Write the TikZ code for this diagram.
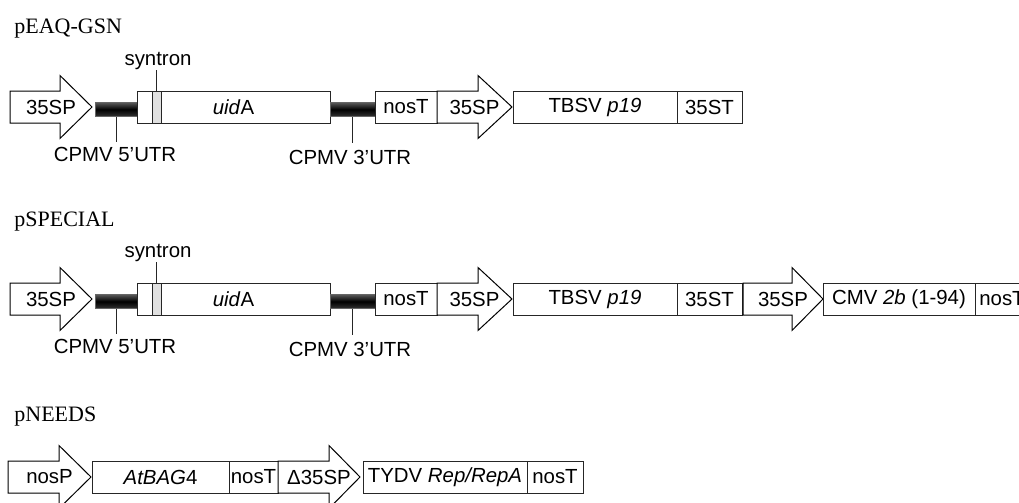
\documentclass[tikz,border=0pt]{standalone}
\usepackage{fontspec}
\setmainfont{Liberation Serif}
\setsansfont{Liberation Sans}

\tikzset{
  part/.style={draw=black!85, line width=0.5pt, fill=white},
  prom/.style={draw=black, line width=0.5pt, fill=white},
  txt/.style={inner sep=0pt, font=\sffamily\fontsize{10.2}{12}\selectfont},
  utr/.style={draw=black!60, line width=0.5pt, top color=black!65, bottom color=black!80, middle color=black, minimum height=7pt, inner sep=0pt},
  syn/.style={draw=black!85, line width=0.5pt, fill=black!12, minimum height=16pt, minimum width=4.5pt, inner sep=0pt},
  lead/.style={draw=black!85, line width=0.5pt},
  title/.style={inner sep=0pt, anchor=base west, font=\fontsize{11}{13}\selectfont},
}

% name, start, head base, tip, centre y, text
\newcommand{\promoter}[6]{%
  \draw[prom] (#2,#5-16) -- (#3,#5-16) -- (#3,#5-31.5) -- (#4,#5) -- (#3,#5+31.5) -- (#3,#5+16) -- (#2,#5+16) -- cycle;
  \node[txt] (#1) at ({(#2+#4)/2},#5) {#6};}
% name, left, right, centre y, text
\newcommand{\gbox}[5]{%
  \draw[part] (#2,#4-16) rectangle (#3,#4+16);
  \node[txt] (#1) at ({(#2+#3)/2},#4) {#5};}

\begin{document}
\begin{tikzpicture}[x=0.5pt,y=-0.5pt]
\useasboundingbox (0,0) rectangle (1019,503);
\clip (0,0) rectangle (1019,503);

  \node[title] (tgsn) at (14,33) {pEAQ-GSN};
  \node[title] (tspc) at (14,226) {pSPECIAL};
  \node[title] (tneed) at (14,421) {pNEEDS};

% the first two constructs start the same way
\foreach \yc/\r in {107/a,299/b}{
  \promoter{pa\r}{10}{60}{92}{\yc}{35SP}
  \node[utr, minimum width=21pt] (utrf\r) at (116,\yc+2.5) {};
  \gbox{gus\r}{137}{330}{\yc}{\textit{uid}A}
  \node[syn] (syn\r) at (156.5,\yc) {};
  \node[utr, minimum width=22.5pt] (utrt\r) at (352.5,\yc+2.5) {};
  \gbox{nosa\r}{375}{437}{\yc}{nosT}
  \promoter{pb\r}{437}{478}{512}{\yc}{35SP}
  \gbox{tbsv\r}{513}{677}{\yc}{TBSV \textit{p19}}
  \gbox{ter\r}{677}{742}{\yc}{35ST}
  \node[txt, anchor=south] (lsyn\r) at (158,\yc-37) {syntron};
  \node[txt, anchor=north] (lfive\r) at (115,\yc+40) {CPMV 5’UTR};
  \node[txt, anchor=north] (lthree\r) at (350,\yc+43) {CPMV 3’UTR};
  \draw[lead] (syn\r.north) -- (syn\r.north |- lsyn\r.south);
  \draw[lead, shorten >=2.5pt] (utrf\r.south) -- (utrf\r.south |- lfive\r.north);
  \draw[lead, shorten >=3.5pt] (utrt\r.south) -- (utrt\r.south |- lthree\r.north);
}

% pSPECIAL goes on
  \promoter{pc}{743}{792}{823}{299}{35SP}
  \gbox{cmv}{823}{975}{299}{CMV \textit{2b} (1-94)}
  \gbox{nosc}{975}{1029}{299}{nosT}

% pNEEDS
  \promoter{pnos}{8}{59}{91}{477}{nosP}
  \gbox{bag}{92}{229}{477}{\textit{AtBAG}4}
  \gbox{nosd}{229}{278}{477}{nosT}
  \promoter{pd}{278}{329}{360}{477}{Δ35SP}
  \gbox{rep}{363}{527}{477}{TYDV \textit{Rep/RepA}}
  \gbox{nose}{527}{583}{477}{nosT}
\end{tikzpicture}
\end{document}
